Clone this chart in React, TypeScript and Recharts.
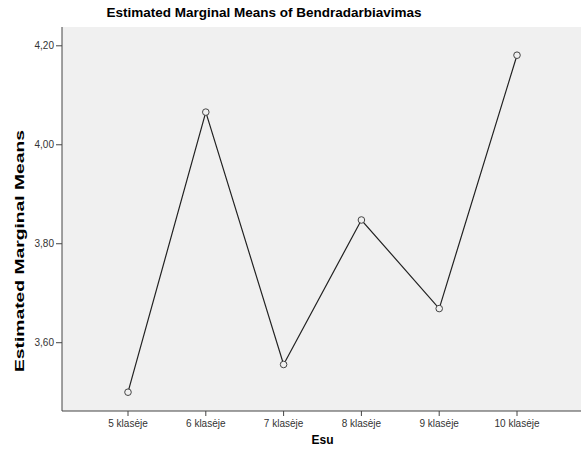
import { LineChart, Line, XAxis, YAxis, CartesianGrid } from "recharts";

const categories = ["5 klasėje", "6 klasėje", "7 klasėje", "8 klasėje", "9 klasėje", "10 klasėje"];
const means = [3.5, 4.066, 3.556, 3.848, 3.669, 4.181];
const yTicks = [3.6, 3.8, 4.0, 4.2];

const data = categories.map((name, i) => ({ name, mean: means[i] }));

const font = "'Liberation Sans', Arial, sans-serif";

function App() {
  return (
    <div
      style={{
        position: "absolute",
        left: 0,
        top: 0,
        width: 581,
        height: 459,
        overflow: "hidden",
        background: "#ffffff",
        fontFamily: font,
      }}
    >
      <div
        style={{
          position: "absolute",
          left: 264,
          top: 5,
          transform: "translateX(-50%)",
          fontSize: 13.5,
          fontWeight: "bold",
          whiteSpace: "nowrap",
          color: "#000",
        }}
      >
        Estimated Marginal Means of Bendradarbiavimas
      </div>
      <svg width={40} height={459} style={{ position: "absolute", left: 0, top: 0 }}>
        <text
          transform="rotate(-90)"
          x={-251}
          y={24}
          textAnchor="middle"
          textLength={242}
          lengthAdjust="spacingAndGlyphs"
          style={{ fontSize: 13, fontWeight: "bold", fontFamily: font, fill: "#000" }}
        >
          Estimated Marginal Means
        </text>
      </svg>
      <LineChart width={583} height={459} data={data} margin={{ top: 27, right: 0, bottom: 0, left: 0 }}>
        <CartesianGrid fill="#f0f0f0" horizontal={false} vertical={false} />
        <XAxis
          dataKey="name"
          height={48}
          padding={{ left: 66, right: 66 }}
          tickSize={5}
          tickMargin={4}
          tick={{ fontSize: 10, fill: "#333", fontFamily: font }}
          stroke="#444"
          label={{
            value: "Esu",
            position: "insideBottom",
            offset: 15,
            style: { fontSize: 12, fontWeight: "bold", fill: "#000", fontFamily: font },
          }}
        />
        <XAxis xAxisId="top" dataKey="name" orientation="top" height={0} tick={false} tickLine={false} stroke="#444" />
        <YAxis
          width={62}
          domain={[3.462, 4.238]}
          ticks={yTicks}
          allowDataOverflow
          tickSize={6}
          tickMargin={2}
          tickFormatter={(v: number) => v.toFixed(2).replace(".", ",")}
          tick={{ fontSize: 10, fill: "#333", fontFamily: font }}
          stroke="#444"
        />
        <YAxis yAxisId="right" orientation="right" width={0} tick={false} tickLine={false} stroke="#444" />
        <Line
          type="linear"
          dataKey="mean"
          stroke="#222"
          strokeWidth={1.2}
          dot={{ r: 3.3, stroke: "#444", strokeWidth: 1, fill: "#f0f0f0" }}
          isAnimationActive={false}
        />
      </LineChart>
    </div>
  );
}

export default App;
